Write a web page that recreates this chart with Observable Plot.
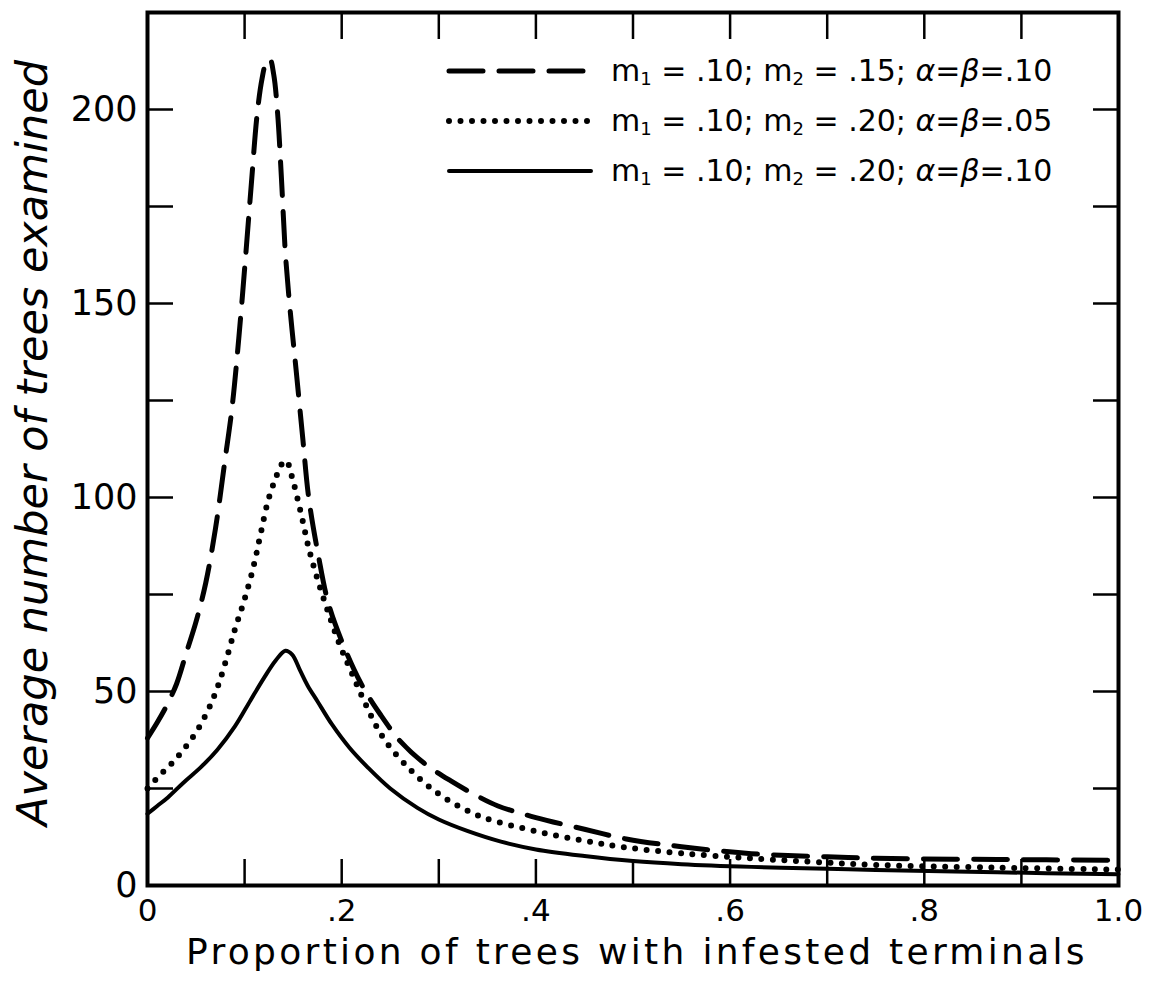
<!DOCTYPE html>
<html>
<head>
<meta charset="utf-8">
<script src="https://cdn.jsdelivr.net/npm/d3@7"></script>
<script src="https://cdn.jsdelivr.net/npm/@observablehq/plot@0.6"></script>
<style>
  body { margin: 0; background: #fff; }
  #wrap { position: relative; width: 1151px; height: 983px; font-family: "DejaVu Sans", sans-serif; color: #000; }
  #legend { position: absolute; left: 445px; top: 46px; }
  .row { display: flex; align-items: center; height: 50px; }
  .row svg { width: 150px; height: 20px; margin-right: 16px; flex: none; }
  .row span { font-size: 30px; white-space: nowrap; letter-spacing: 0px; }
  .row sub { font-size: 0.6em; vertical-align: -0.2em; }
  .row i { font-style: italic; }
</style>
</head>
<body>
<div id="wrap"></div>
<script>
// ---- data ----
const seriesNames = [
  "m1 = .10; m2 = .15; α=β=.10",
  "m1 = .10; m2 = .20; α=β=.05",
  "m1 = .10; m2 = .20; α=β=.10"
];

const xDashed = [0, 0.01, 0.02, 0.03, 0.04, 0.05, 0.06, 0.07, 0.08, 0.087, 0.094, 0.101, 0.107, 0.113, 0.118, 0.122, 0.126,
  0.130, 0.134, 0.138, 0.142, 0.147, 0.153, 0.160, 0.166, 0.176, 0.186, 0.20, 0.22, 0.24, 0.261, 0.285, 0.312, 0.34, 0.361,
  0.4, 0.45, 0.493, 0.55, 0.622, 0.7, 0.75, 0.875, 1.0];
const yDashed = [38, 42, 46.5, 52, 60, 68, 78, 92, 110, 123, 141, 162, 181, 199, 208, 212, 213,
  209, 199, 182, 163, 148, 133, 115, 100, 85, 73, 63, 52, 44, 37, 31.5, 27, 23, 20.5,
  17.5, 14.5, 12, 10, 8.2, 7.4, 7, 6.7, 6.5];

const xDotted = [0, 0.013, 0.025, 0.037, 0.05, 0.062, 0.072, 0.082, 0.09, 0.099, 0.108, 0.116, 0.124, 0.132, 0.138, 0.143,
  0.148, 0.158, 0.166, 0.175, 0.186, 0.198, 0.21, 0.225, 0.243, 0.27, 0.295, 0.32, 0.346, 0.4, 0.45, 0.493, 0.55, 0.622,
  0.7, 0.75, 0.875, 1.0];
const yDotted = [25, 28.5, 31.5, 35, 39.5, 45, 51, 59, 66, 73, 81, 90, 99, 105, 108.5, 109.5,
  106, 96, 87, 79, 70.5, 62, 55, 46.5, 38, 30, 24.5, 20.5, 17.5, 14, 11.5, 9.8, 8.3, 7,
  5.9, 5.3, 4.6, 4.1];

const xSolid = [0, 0.01, 0.021, 0.037, 0.055, 0.072, 0.09, 0.106, 0.12, 0.132, 0.142, 0.149, 0.157, 0.165, 0.175, 0.19,
  0.208, 0.227, 0.25, 0.278, 0.30, 0.33, 0.364, 0.4, 0.45, 0.5, 0.55, 0.622, 0.7, 0.75, 0.875, 1.0];
const ySolid = [18.5, 20.5, 22.7, 26.5, 30.5, 35, 41, 47.7, 53.5, 58, 60.5, 59.5, 55.5, 51.5, 47.5, 41.5,
  35.5, 30.4, 25, 20, 17, 14, 11.3, 9.3, 7.6, 6.3, 5.5, 4.8, 4.3, 4.0, 3.4, 2.9];

const xMinorTicks = [0.1, 0.2, 0.3, 0.4, 0.5, 0.6, 0.7, 0.8, 0.9];
const yMinorTicks = [25, 50, 75, 100, 125, 150, 175, 200];
const xTickValues = [0, 0.2, 0.4, 0.6, 0.8, 1.0];
const xTickLabels = ["0", ".2", ".4", ".6", ".8", "1.0"];
const yTickValues = [0, 50, 100, 150, 200];
const yTickLabels = ["0", "50", "100", "150", "200"];

const xTitle = "Proportion of trees with infested terminals";
const yTitle = "Average number of trees examined";

// ---- build ----
const toRows = (xs, ys) => xs.map((x, i) => ({x, y: ys[i]}));
const dashed = toRows(xDashed, yDashed);
const dotted = toRows(xDotted, yDotted);
const solid = toRows(xSolid, ySolid);

const styles = [
  {strokeWidth: 5, strokeDasharray: "34,16", strokeLinecap: "round"},
  {strokeWidth: 6, strokeDasharray: "0,11.5", strokeLinecap: "round"},
  {strokeWidth: 4, strokeDasharray: null, strokeLinecap: "round"}
];

const chart = Plot.plot({
  width: 1151,
  height: 983,
  marginLeft: 147,
  marginRight: 33,
  marginTop: 12,
  marginBottom: 98,
  x: {domain: [0, 1]},
  y: {domain: [0, 225]},
  style: {fontFamily: "DejaVu Sans, sans-serif", background: "#fff", color: "#000", overflow: "visible"},
  marks: [
    Plot.axisX(xMinorTicks, {anchor: "bottom", tickSize: -26, strokeWidth: 2.5, fill: "none", label: null}),
    Plot.axisX(xMinorTicks, {anchor: "top", tickSize: -26, strokeWidth: 2.5, fill: "none", label: null}),
    Plot.axisY(yMinorTicks, {anchor: "left", tickSize: -26, strokeWidth: 2.5, fill: "none", label: null}),
    Plot.axisY(yMinorTicks, {anchor: "right", tickSize: -26, strokeWidth: 2.5, fill: "none", label: null}),
    Plot.axisX(xTickValues, {anchor: "bottom", tickSize: 0, tickPadding: 13, fontSize: 31, label: null,
      tickFormat: d => xTickLabels[xTickValues.indexOf(d)]}),
    Plot.axisY(yTickValues, {anchor: "left", tickSize: 0, tickPadding: 10, fontSize: 35, label: null,
      tickFormat: d => yTickLabels[yTickValues.indexOf(d)]}),
    Plot.line(dashed, {x: "x", y: "y", curve: "catmull-rom", stroke: "#000", ...styles[0]}),
    Plot.line(dotted, {x: "x", y: "y", curve: "catmull-rom", stroke: "#000", ...styles[1]}),
    Plot.line(solid, {x: "x", y: "y", curve: "catmull-rom", stroke: "#000", ...styles[2]}),
    Plot.frame({stroke: "#000", strokeWidth: 4}),
    Plot.text([xTitle], {frameAnchor: "bottom", lineAnchor: "bottom", textAnchor: "middle", dy: 78, dx: 4, fontSize: 36, fill: "#000"}),
    Plot.text([yTitle], {frameAnchor: "left", textAnchor: "middle", rotate: -90, dx: -114, dy: -6, fontSize: 43, fontStyle: "italic", fill: "#000"})
  ]
});

document.getElementById("wrap").appendChild(chart);
d3.select(chart).selectAll("text").each(function() {
  if (this.textContent === xTitle) this.setAttribute("letter-spacing", "3.3");
});

// ---- legend (HTML overlay inside the frame) ----
const legend = document.createElement("div");
legend.id = "legend";
const fmt = s => s.replace(/m([12])/g, "m<sub>$1</sub>").replace(/α/g, "<i>α</i>").replace(/β/g, "<i>β</i>");
seriesNames.forEach((name, i) => {
  const row = document.createElement("div");
  row.className = "row";
  const st = styles[i];
  row.innerHTML =
    `<svg viewBox="0 0 150 20"><line x1="4" y1="10" x2="146" y2="10" stroke="#000" stroke-width="${st.strokeWidth}"` +
    ` stroke-linecap="${st.strokeLinecap}"${st.strokeDasharray ? ` stroke-dasharray="${st.strokeDasharray}"` : ""}/></svg>` +
    `<span>${fmt(name)}</span>`;
  legend.appendChild(row);
});
document.getElementById("wrap").appendChild(legend);
</script>
</body>
</html>
